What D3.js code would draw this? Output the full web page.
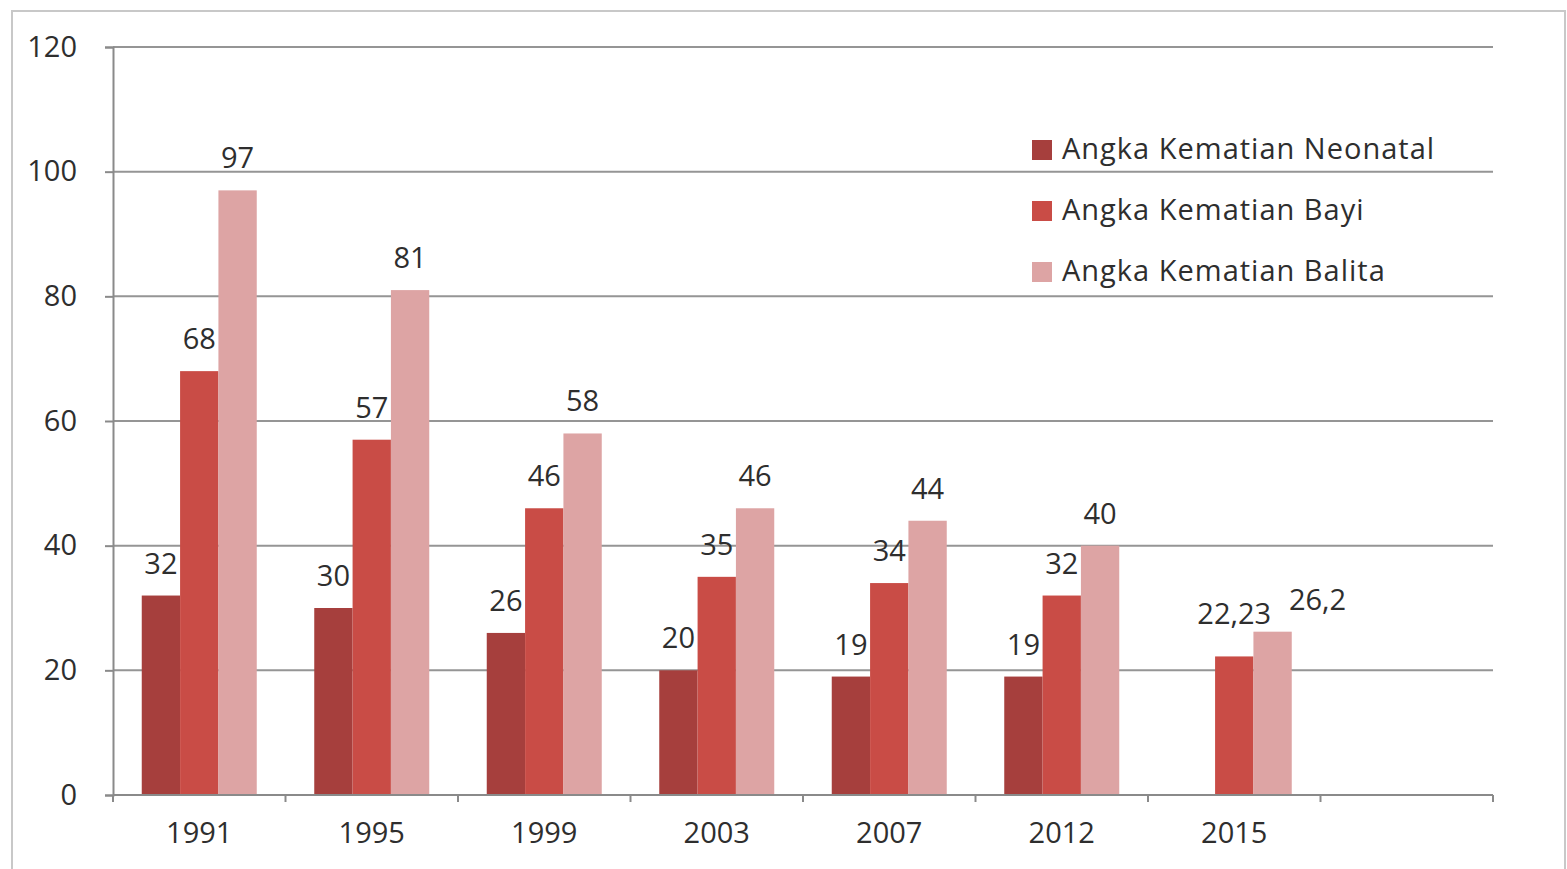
<!DOCTYPE html>
<html lang="en">
<head>
  <meta charset="utf-8">
  <title>Angka Kematian Neonatal, Bayi dan Balita</title>
  <!-- d3 v7 from the CDN -->
  <script src="https://cdn.jsdelivr.net/npm/d3@7"></script>
  <style>
    body { margin: 0; background: #fff; }
    text { font-family: "Open Sans", sans-serif; fill: #2e2e2e; }
  </style>
</head>
<body>
  <svg id="chart" width="1567" height="869"></svg>
  <script>
    // the data (last slot is empty in the original)
    var years = ["1991", "1995", "1999", "2003", "2007", "2012", "2015", ""];
    var seriesNames = ["Angka Kematian Neonatal", "Angka Kematian Bayi", "Angka Kematian Balita"];
    var neonatal = [32, 30, 26, 20, 19, 19, null, null];
    var bayi = [68, 57, 46, 35, 34, 32, 22.23, null];
    var balita = [97, 81, 58, 46, 44, 40, 26.2, null];
    var yTicks = [0, 20, 40, 60, 80, 100, 120];
    var colors = ["#a63f3d", "#c94c46", "#dda4a4"];

    var svg = d3.select("#chart");
    var margin = { left: 113, right: 74, top: 47, bottom: 74 };
    var width = 1567, height = 869;

    // outer frame of the chart object
    svg.append("rect")
      .attr("x", 12).attr("y", 11)
      .attr("width", 1553).attr("height", 900)
      .attr("fill", "none").attr("stroke", "#c8c8c8").attr("stroke-width", 2);

    var x0 = d3.scaleBand()
      .domain(d3.range(years.length))
      .range([margin.left, width - margin.right]);

    var x1 = d3.scaleBand()
      .domain(d3.range(seriesNames.length))
      .range([0, x0.bandwidth()])
      .paddingOuter(0.75);

    var y = d3.scaleLinear()
      .domain([0, 120])
      .range([height - margin.bottom, margin.top]);

    // gridlines
    svg.append("g")
      .selectAll("line")
      .data(yTicks.slice(1))
      .enter().append("line")
      .attr("x1", margin.left).attr("x2", width - margin.right)
      .attr("y1", function(d) { return y(d); })
      .attr("y2", function(d) { return y(d); })
      .attr("stroke", "#959595").attr("stroke-width", 2);

    // y axis
    var yAxis = svg.append("g")
      .attr("transform", "translate(" + margin.left + ",0)")
      .call(d3.axisLeft(y).tickValues(yTicks).tickSize(8).tickPadding(28));
    yAxis.select(".domain").attr("stroke", "#8a8a8a").attr("stroke-width", 2);
    yAxis.selectAll(".tick line").attr("stroke", "#8a8a8a").attr("stroke-width", 2);
    yAxis.selectAll(".tick text")
      .attr("font-size", 29).attr("font-family", "Open Sans").attr("fill", "#2e2e2e");

    // bars
    var series = [neonatal, bayi, balita];
    var groups = svg.append("g")
      .selectAll("g")
      .data(series)
      .enter().append("g")
      .attr("fill", function(d, i) { return colors[i]; });

    groups.selectAll("rect")
      .data(function(d, s) {
        return d.map(function(v, i) { return { s: s, i: i, v: v }; })
                .filter(function(p) { return p.v != null; });
      })
      .enter().append("rect")
      .attr("x", function(p) { return x0(p.i) + x1(p.s); })
      .attr("width", x1.bandwidth())
      .attr("y", function(p) { return y(p.v); })
      .attr("height", function(p) { return y(0) - y(p.v); });

    // x axis: line + ticks between categories
    var xAxisY = y(0);
    svg.append("line")
      .attr("x1", margin.left).attr("x2", width - margin.right)
      .attr("y1", xAxisY).attr("y2", xAxisY)
      .attr("stroke", "#8a8a8a").attr("stroke-width", 2);
    svg.append("g")
      .selectAll("line")
      .data(d3.range(years.length + 1))
      .enter().append("line")
      .attr("x1", function(i) { return margin.left + i * x0.step(); })
      .attr("x2", function(i) { return margin.left + i * x0.step(); })
      .attr("y1", xAxisY).attr("y2", xAxisY + 7)
      .attr("stroke", "#8a8a8a").attr("stroke-width", 2);
    svg.append("g")
      .selectAll("text")
      .data(years)
      .enter().append("text")
      .attr("x", function(d, i) { return x0(i) + x0.bandwidth() / 2; })
      .attr("y", xAxisY + 48)
      .attr("text-anchor", "middle")
      .attr("font-size", 29)
      .text(function(d) { return d; });

    // value labels; the two 2015 ones were moved by hand in the original
    var labelNudge = { "1-6": [0, -10], "2-6": [45, 0] };
    function nudge(p) { return labelNudge[p.s + "-" + p.i] || [0, 0]; }
    groups.selectAll("text")
      .data(function(d, s) {
        return d.map(function(v, i) { return { s: s, i: i, v: v }; })
                .filter(function(p) { return p.v != null; });
      })
      .enter().append("text")
      .attr("x", function(p) { return x0(p.i) + x1(p.s) + x1.bandwidth() / 2 + nudge(p)[0]; })
      .attr("y", function(p) { return y(p.v) - 22 + nudge(p)[1]; })
      .attr("text-anchor", "middle")
      .attr("font-size", 29)
      .attr("fill", "#2e2e2e")
      .text(function(p) { return String(p.v).replace(".", ","); });

    // legend
    var legend = svg.append("g")
      .selectAll("g")
      .data(seriesNames)
      .enter().append("g")
      .attr("transform", function(d, i) { return "translate(1032," + (150 + i * 61) + ")"; });
    legend.append("rect")
      .attr("x", 0).attr("y", -10)
      .attr("width", 20).attr("height", 20)
      .attr("fill", function(d, i) { return colors[i]; });
    legend.append("text")
      .attr("x", 30).attr("y", 9)
      .attr("font-size", 29)
      .attr("letter-spacing", 1)
      .text(function(d) { return d; });
  </script>
</body>
</html>
